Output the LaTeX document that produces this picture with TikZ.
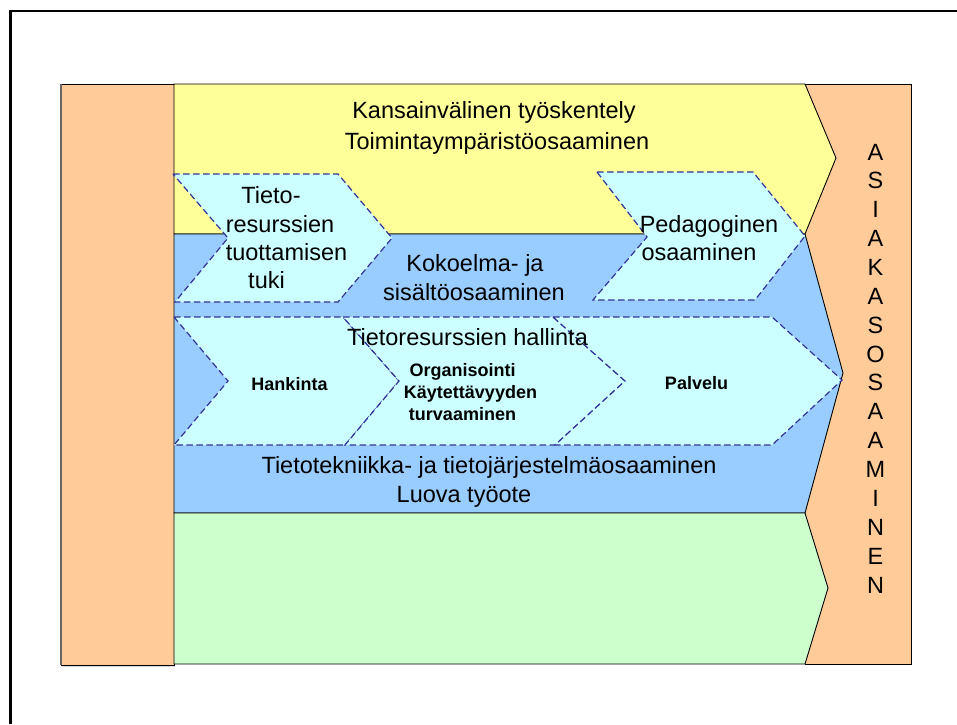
\documentclass[tikz,border=0pt]{standalone}
\usepackage{fontspec}
\setmainfont{Liberation Sans}
\definecolor{peach}{HTML}{FFCC99}
\definecolor{lemon}{HTML}{FFFF99}
\definecolor{skyb}{HTML}{99CCFF}
\definecolor{mint}{HTML}{CCFFCC}
\definecolor{icecyan}{HTML}{CCFFFF}
\definecolor{dashblue}{HTML}{333399}
\tikzset{
  band/.style={draw=black, line width=0.9pt, line join=miter},
  chev/.style={fill=icecyan, draw=dashblue, dash pattern=on 6.5pt off 3.5pt, line width=1.2pt},
  lbl/.style={font=\fontsize{23.5}{28}\selectfont, anchor=base, inner sep=0pt},
  blbl/.style={font=\bfseries\fontsize{18}{22}\selectfont, anchor=base, inner sep=0pt},
}
\begin{document}
\begin{tikzpicture}[x=1pt,y=-1pt]
\useasboundingbox (0,0) rectangle (957,724);
\fill[white] (0,0) rectangle (957,724);
% outer frame
\draw[line width=2.6pt] (10.3,724) -- (10.3,11) -- (957,11);
% right orange block
\fill[peach] (805,84) rectangle (911,664);
\draw[line width=0.9pt] (805,84) -- (911,84) -- (911,664) -- (805,664);
% left orange block (with faint shadow)
\fill[black!15] (62,666) rectangle (175,667);
\filldraw[band, fill=peach] (61,84) rectangle (174,665);
\draw[black!60, line width=1.4pt] (61,84) -- (61,665);
% bands
\filldraw[band, fill=lemon] (174,84) -- (805,84) -- (836,158) -- (805,234) -- (174,234) -- cycle;
\filldraw[band, fill=skyb] (174,234) -- (805,234) -- (843,373) -- (805,513) -- (174,513) -- cycle;
\filldraw[band, fill=mint] (174,513) -- (805,513) -- (828,588) -- (805,664) -- (174,664) -- cycle;
% chevrons
\filldraw[chev] (173,174) -- (338,174) -- (392,238) -- (338,302) -- (175,302) -- (228,238) -- cycle;
\filldraw[chev] (597,172) -- (753,172) -- (805,236) -- (755,300) -- (593,300) -- (647,237) -- cycle;
\filldraw[chev] (174,317) -- (343,317) -- (399,381) -- (345,445) -- (174,445) -- (228,381) -- cycle;
\filldraw[chev] (343,317) -- (553,317) -- (625,381) -- (555,445) -- (345,445) -- (399,381) -- cycle;
\filldraw[chev] (553,317) -- (772,317) -- (842,380) -- (772,445) -- (555,445) -- (625,381) -- cycle;
% texts
\node[lbl] (kans) at (494,118) {Kansainvälinen työskentely};
\node[lbl] (toim) at (497,149) {Toimintaympäristöosaaminen};
\node[lbl] (tt1) at (271,203) {Tieto-};
\node[lbl] (tt2) at (280,232) {resurssien};
\node[lbl] (tt3) at (286.5,260) {tuottamisen};
\node[lbl] (tt4) at (266.5,288) {tuki};
\node[lbl] (ped1) at (709,232) {Pedagoginen};
\node[lbl] (ped2) at (699,260) {osaaminen};
\node[lbl] (kok1) at (475,271) {Kokoelma- ja};
\node[lbl] (kok2) at (474,300) {sisältöosaaminen};
\node[lbl] (hall) at (467.5,345) {Tietoresurssien hallinta};
\node[blbl] (hank) at (289.5,390) {Hankinta};
\node[blbl] (org1) at (462.5,376) {Organisointi};
\node[blbl] (org2) at (470.5,398) {Käytettävyyden};
\node[blbl] (org3) at (462.5,420) {turvaaminen};
\node[blbl] (palv) at (696.5,389) {Palvelu};
\node[lbl] (tiet) at (489,473) {Tietotekniikka- ja tietojärjestelmäosaaminen};
\node[lbl] (luova) at (464,502) {Luova työote};
\foreach \ch [count=\i from 0] in {A,S,I,A,K,A,S,O,S,A,A,M,I,N,E,N}
  \node[lbl] (asi\i) at (875.5,160+28.87*\i) {\ch};
\end{tikzpicture}
\end{document}
